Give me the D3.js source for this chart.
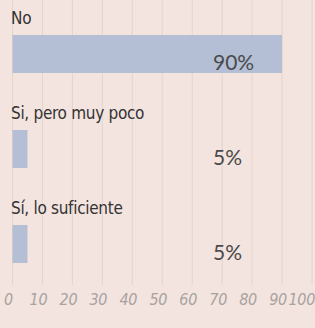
<!DOCTYPE html>
<html>
<head>
<meta charset="utf-8">
<script src="https://cdn.jsdelivr.net/npm/d3@7"></script>
<style>
  body { margin: 0; background: #f3e4df; }
  .cat { font-family: "Liberation Sans Narrow", "DejaVu Sans Condensed", sans-serif; font-size: 17px; letter-spacing: -0.3px; fill: #333; }
  .val { font-family: "Lato", "DejaVu Sans", sans-serif; font-size: 21px; fill: #4a4a4a; }
  .tick-label { font-family: "Liberation Sans Narrow", "DejaVu Sans Condensed", sans-serif; font-style: italic; font-size: 16px; letter-spacing: -0.3px; fill: #a8a2a0; }
</style>
</head>
<body>
<div id="vis"></div>
<script>
const categories = ["No", "Si, pero muy poco", "Sí, lo suficiente"];
const values = [90, 5, 5];
const valueLabels = ["90%", "5%", "5%"];
const ticks = [0, 10, 20, 30, 40, 50, 60, 70, 80, 90, 100];

const width = 315, height = 328;

const svg = d3.select("#vis")
    .append("svg")
    .attr("width", width)
    .attr("height", height);

svg.append("rect")
    .attr("width", width)
    .attr("height", height)
    .attr("fill", "#f3e4df");

const x = d3.scaleLinear()
    .domain([0, 100])
    .range([12.5, 312]);

// each row: label band + bar band
const rowTop = d3.scaleBand()
    .domain(categories)
    .range([0, 285])
    .paddingInner(0);

const gridBottom = 285;

// gridlines
svg.selectAll(".grid")
    .data(ticks)
    .enter()
    .append("line")
    .attr("class", "grid")
    .attr("x1", d => x(d))
    .attr("x2", d => x(d))
    .attr("y1", 0)
    .attr("y2", gridBottom)
    .attr("stroke", "#e5d3cd")
    .attr("stroke-width", 1);

const rows = svg.selectAll(".row")
    .data(categories)
    .enter()
    .append("g")
    .attr("class", "row")
    .attr("transform", d => `translate(0,${rowTop(d)})`);

rows.append("text")
    .attr("class", "cat")
    .attr("x", 11)
    .attr("y", 24)
    .text(d => d);

rows.append("rect")
    .attr("x", x(0))
    .attr("y", 35)
    .attr("width", (d, i) => x(values[i]) - x(0))
    .attr("height", 38)
    .attr("fill", "#b4bed5");

rows.append("text")
    .attr("class", "val")
    .attr("x", 213)
    .attr("y", 70)
    .text((d, i) => valueLabels[i]);

svg.selectAll(".tick-label")
    .data(ticks)
    .enter()
    .append("text")
    .attr("class", "tick-label")
    .attr("x", d => d === 100 ? width : x(d) - 4)
    .attr("y", 305)
    .attr("text-anchor", d => d === 100 ? "end" : "middle")
    .text(d => d);
</script>
</body>
</html>
